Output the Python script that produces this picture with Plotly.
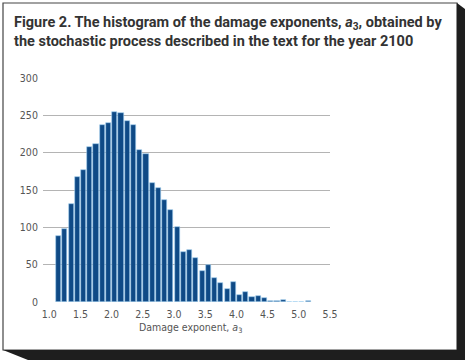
import plotly.graph_objects as go

# ---- data ----
bin_left = [1.1, 1.2, 1.3, 1.4, 1.5, 1.6, 1.7, 1.8, 1.9, 2.0,
            2.1, 2.2, 2.3, 2.4, 2.5, 2.6, 2.7, 2.8, 2.9, 3.0,
            3.1, 3.2, 3.3, 3.4, 3.5, 3.6, 3.7, 3.8, 3.9, 4.0,
            4.1, 4.2, 4.3, 4.4, 4.5, 4.6, 4.7, 4.8, 4.9, 5.0, 5.1]
counts = [88, 98, 131, 167, 177, 208, 211, 237, 240, 254,
          253, 243, 237, 203, 198, 160, 153, 136, 123, 101,
          67, 70, 59, 41, 49, 32, 26, 17, 27, 10,
          13, 7, 8, 5, 1, 1, 3, 0.5, 0, 0, 1]
bin_width = 0.1
x_ticks = [1.0, 1.5, 2.0, 2.5, 3.0, 3.5, 4.0, 4.5, 5.0, 5.5]
y_ticks = [0, 50, 100, 150, 200, 250, 300]
grid_ticks = [0, 50, 100, 150, 200, 250]
x_title = "Damage exponent, <i>a</i><sub>3</sub>"
chart_title = ("Figure 2. The histogram of the damage exponents, <i>a</i><sub>3</sub>, obtained by"
               "<br>the stochastic process described in the text for the year 2100")

centers = [b + bin_width / 2 for b in bin_left]

W, H = 468, 362
ML, MR, MT, MB = 43, 138, 78, 60
PW, PH = W - ML - MR, H - MT - MB


def px(x):
    return (x - ML) / PW


def py(y):
    return (H - MB - y) / PH


fig = go.Figure()
fig.add_trace(go.Bar(
    x=centers, y=counts, width=bin_width * 0.82,
    marker=dict(color="#0f4a86", line=dict(color="#9fd0f0", width=0.6)),
    hoverinfo="x+y", showlegend=False,
))
fig.add_trace(go.Scatter(x=[None], y=[None], yaxis="y2", showlegend=False))

font_ticks = dict(family="DejaVu Sans Condensed, Liberation Sans Narrow, Roboto Condensed, sans-serif",
                  size=10.5, color="#555555")

shapes = [
    dict(type="rect", xref="paper", yref="paper",
         x0=px(3), x1=px(457), y0=py(350), y1=py(3),
         fillcolor="white", line=dict(color="#444444", width=1.2), layer="below"),
    dict(type="path", xref="paper", yref="paper",
         path=("M {:.4f},{:.4f} L {:.4f},{:.4f} L {:.4f},{:.4f} L {:.4f},{:.4f} L {:.4f},{:.4f} "
               "L {:.4f},{:.4f} Z").format(
             px(457), py(3), px(465), py(9), px(465), py(360),
             px(28), py(360), px(3), py(350), px(457), py(350)),
         fillcolor="#1e1e1e", line=dict(width=0), layer="below"),
]

annotations = [
    dict(
        text=chart_title,
        xref="paper", yref="paper", x=px(12), y=py(12), xanchor="left", yanchor="top",
        align="left", showarrow=False,
        font=dict(family="Roboto, Arial, sans-serif", size=14.5, color="#333333", weight="bold"),
    ),
    dict(
        text=x_title, xref="paper", yref="paper", x=px(190), y=py(319),
        xanchor="center", yanchor="top", showarrow=False, font=font_ticks,
    ),
]

fig.update_layout(
    width=W, height=H,
    margin=dict(l=ML, r=MR, t=MT, b=MB),
    paper_bgcolor="white", plot_bgcolor="rgba(0,0,0,0)",
    xaxis=dict(
        range=[0.9, 5.5], tickvals=x_ticks, tickformat=".1f",
        showgrid=False, zeroline=False, showline=False,
        ticks="outside", ticklen=2, tickcolor="rgba(0,0,0,0)",
        tickfont=font_ticks,
    ),
    yaxis=dict(
        range=[0, 300], tickvals=y_ticks, showgrid=False, zeroline=False,
        showline=False, ticks="outside", ticklen=2, tickcolor="rgba(0,0,0,0)",
        tickfont=font_ticks,
    ),
    yaxis2=dict(
        range=[0, 300], overlaying="y", tickvals=grid_ticks, showticklabels=False,
        showgrid=True, gridcolor="#b4b4b4", gridwidth=1, zeroline=False, ticks="",
    ),
    bargap=0,
    shapes=shapes,
    annotations=annotations,
)

fig.write_html("out.html", config={"displayModeBar": False},
               post_script="document.body.style.margin='0px';document.body.style.overflow='hidden';")
